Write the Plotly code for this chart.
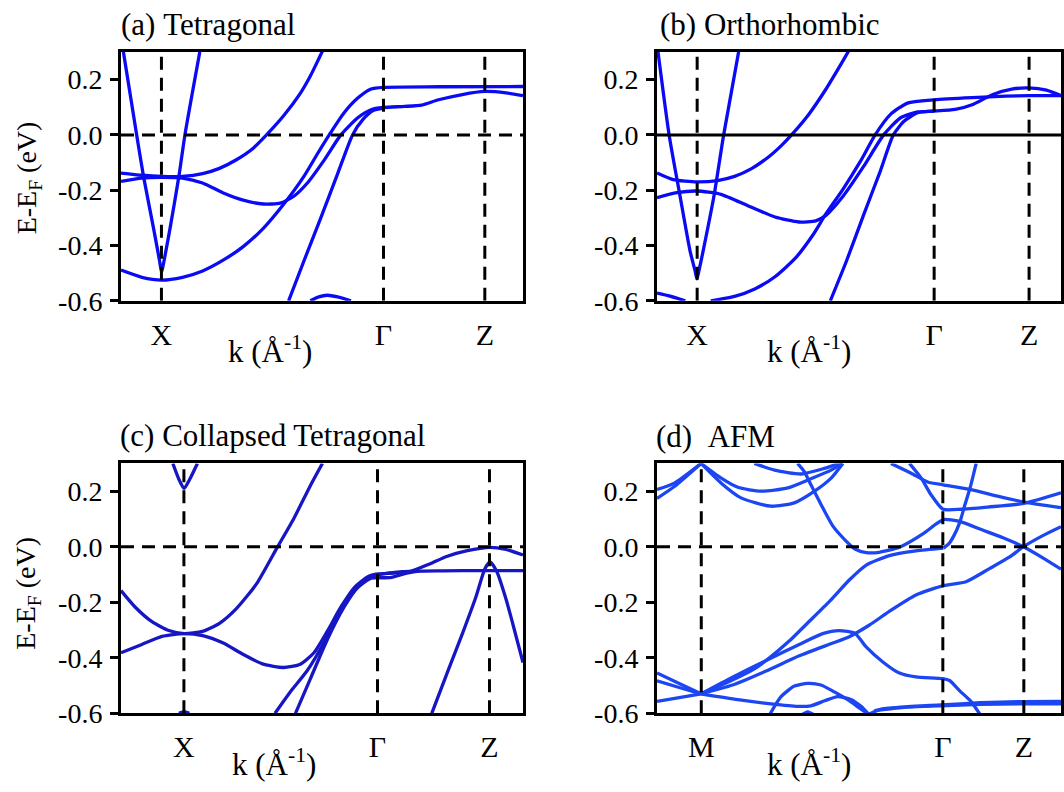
import plotly.graph_objects as go

# ---------------- data (k as fraction of the plotted path, E in eV) ----------------
K_RANGE = [0.0, 1.0]
E_RANGE = [-0.6, 0.3]
E_TICKS = [-0.6, -0.4, -0.2, 0.0, 0.2]
E_TICK_TEXT = ["-0.6", "-0.4", "-0.2", "0.0", "0.2"]

A_HS_K = [0.1006, 0.653, 0.905]
A_HS_LBL = ["X", "Γ", "Z"]
B_HS_K = [0.0994, 0.686, 0.921]
B_HS_LBL = ["X", "Γ", "Z"]
C_HS_K = [0.1565, 0.638, 0.9166]
C_HS_LBL = ["X", "Γ", "Z"]
D_HS_K = [0.1096, 0.7075, 0.908]
D_HS_LBL = ["M", "Γ", "Z"]

# (a) Tetragonal
A_BANDS = [
    ([0.006, 0.039, 0.056, 0.081, 0.096, 0.101, 0.107, 0.122, 0.144, 0.159, 0.196],
     [0.300, 0.000, -0.150, -0.338, -0.456, -0.497, -0.456, -0.338, -0.150, 0.000, 0.300]),
    ([0.0, 0.052, 0.101, 0.153, 0.203, 0.245, 0.287, 0.329, 0.362, 0.404, 0.446, 0.470, 0.492, 0.510],
     [-0.138, -0.146, -0.150, -0.150, -0.140, -0.121, -0.090, -0.048, 0.000, 0.068, 0.150, 0.210,
      0.275, 0.330]),
    ([0.0, 0.052, 0.101, 0.153, 0.203, 0.253, 0.304, 0.354, 0.396, 0.430, 0.463, 0.505, 0.547,
      0.589, 0.622, 0.653, 0.706, 0.748, 0.790, 0.849, 0.905, 0.958, 1.0],
     [-0.168, -0.156, -0.154, -0.156, -0.174, -0.209, -0.236, -0.250, -0.247, -0.222, -0.175,
      -0.092, 0.0, 0.062, 0.091, 0.099, 0.103, 0.108, 0.127, 0.146, 0.157, 0.152, 0.142]),
    ([0.0, 0.052, 0.101, 0.153, 0.203, 0.253, 0.304, 0.354, 0.404, 0.455, 0.488, 0.518, 0.555,
      0.589, 0.622, 0.653, 0.790, 1.0],
     [-0.489, -0.515, -0.525, -0.515, -0.492, -0.454, -0.404, -0.338, -0.252, -0.150, -0.070,
      0.0, 0.080, 0.133, 0.166, 0.172, 0.174, 0.175]),
    ([0.417, 0.455, 0.497, 0.539, 0.576, 0.602, 0.627, 0.653],
     [-0.600, -0.456, -0.300, -0.140, 0.0, 0.056, 0.088, 0.097]),
    ([0.471, 0.492, 0.513, 0.539, 0.572],
     [-0.600, -0.586, -0.580, -0.586, -0.600]),
]

# (b) Orthorhombic
B_BANDS = [
    ([0.0025, 0.030, 0.057, 0.082, 0.094, 0.099, 0.104, 0.114, 0.141, 0.165, 0.202],
     [0.300, 0.0, -0.221, -0.421, -0.49, -0.521, -0.49, -0.421, -0.221, 0.0, 0.300]),
    ([0.0, 0.040, 0.099, 0.150, 0.192, 0.234, 0.276, 0.309, 0.333, 0.376, 0.418, 0.447, 0.473, 0.490],
     [-0.138, -0.162, -0.170, -0.165, -0.150, -0.122, -0.080, -0.037, 0.0, 0.075, 0.165, 0.235,
      0.300, 0.345]),
    ([0.0, 0.049, 0.099, 0.158, 0.225, 0.292, 0.351, 0.393, 0.418, 0.461, 0.511, 0.561, 0.603,
      0.645, 0.686, 0.738, 0.780, 0.830, 0.881, 0.920, 0.964, 1.0],
     [-0.227, -0.209, -0.203, -0.215, -0.256, -0.297, -0.315, -0.311, -0.291, -0.221, -0.115,
      0.0, 0.062, 0.083, 0.086, 0.092, 0.109, 0.145, 0.166, 0.170, 0.162, 0.142]),
    ([0.133, 0.192, 0.242, 0.292, 0.343, 0.385, 0.418, 0.461, 0.503, 0.540, 0.578, 0.620,
      0.686, 0.780, 0.864, 0.920, 1.0],
     [-0.600, -0.584, -0.557, -0.513, -0.445, -0.364, -0.286, -0.195, -0.097, 0.0, 0.074,
      0.115, 0.127, 0.135, 0.140, 0.142, 0.142]),
    ([0.429, 0.469, 0.511, 0.553, 0.585, 0.612, 0.645, 0.686],
     [-0.600, -0.456, -0.291, -0.130, 0.0, 0.050, 0.080, 0.086]),
    ([0.0, 0.032, 0.070],
     [-0.572, -0.583, -0.600]),
]

# (c) Collapsed Tetragonal
C_BANDS = [
    ([0.129, 0.144, 0.157, 0.171, 0.190],
     [0.300, 0.243, 0.210, 0.243, 0.300]),
    ([0.0, 0.035, 0.077, 0.119, 0.157, 0.203, 0.245, 0.287, 0.337, 0.388, 0.430, 0.471, 0.501],
     [-0.158, -0.217, -0.270, -0.302, -0.313, -0.305, -0.276, -0.223, -0.134, -0.004, 0.102,
      0.220, 0.300]),
    ([0.0, 0.052, 0.102, 0.157, 0.203, 0.253, 0.304, 0.354, 0.404, 0.446, 0.480, 0.513, 0.547,
      0.581, 0.614, 0.639, 0.680, 0.718, 0.768, 0.810, 0.859, 0.918, 0.958, 1.0],
     [-0.382, -0.352, -0.323, -0.313, -0.320, -0.346, -0.388, -0.423, -0.435, -0.423, -0.382,
      -0.305, -0.217, -0.146, -0.108, -0.098, -0.095, -0.090, -0.062, -0.035, -0.015, -0.002,
      -0.010, -0.030]),
    ([0.383, 0.421, 0.463, 0.505, 0.547, 0.581, 0.614, 0.639, 0.700, 0.800, 0.900, 1.0],
     [-0.600, -0.523, -0.447, -0.346, -0.228, -0.158, -0.116, -0.102, -0.090, -0.087, -0.086,
      -0.086]),
    ([0.434, 0.471, 0.513, 0.555, 0.589, 0.622, 0.639, 0.673, 0.706, 0.740],
     [-0.600, -0.476, -0.335, -0.217, -0.146, -0.113, -0.112, -0.110, -0.097, -0.088]),
    ([0.773, 0.815, 0.850, 0.883, 0.905, 0.918, 0.935, 0.958, 0.975, 1.0],
     [-0.600, -0.441, -0.310, -0.180, -0.080, -0.055, -0.090, -0.190, -0.280, -0.417]),
    ([0.144, 0.157, 0.170],
     [-0.600, -0.594, -0.600]),
]

# (d) AFM
D_BANDS = [
    ([0.0, 0.043, 0.109], [0.206, 0.229, 0.300]),
    ([0.0, 0.043, 0.109], [0.174, 0.217, 0.300]),
    ([0.109, 0.159, 0.200, 0.258, 0.324, 0.381, 0.431, 0.460],
     [0.300, 0.247, 0.214, 0.200, 0.212, 0.245, 0.276, 0.300]),
    ([0.109, 0.159, 0.208, 0.282, 0.340, 0.390, 0.431, 0.460],
     [0.300, 0.229, 0.176, 0.146, 0.158, 0.200, 0.247, 0.300]),
    ([0.241, 0.291, 0.357, 0.414, 0.439, 0.456],
     [0.300, 0.276, 0.262, 0.282, 0.294, 0.300]),
    ([0.348, 0.365, 0.381, 0.406, 0.435, 0.465, 0.490, 0.518, 0.550, 0.600, 0.658, 0.691, 0.709,
      0.749, 0.806, 0.864, 0.907, 0.955, 1.0],
     [0.300, 0.270, 0.223, 0.152, 0.075, 0.025, -0.008, -0.021, -0.020, -0.002, 0.046, 0.082,
      0.098, 0.091, 0.060, 0.028, 0.0, -0.040, -0.081]),
    ([0.709, 0.722, 0.735, 0.749, 0.762, 0.777, 0.790],
     [-0.005, 0.010, 0.040, 0.086, 0.150, 0.223, 0.300]),
    ([0.109, 0.180, 0.241, 0.270, 0.328, 0.369, 0.427, 0.476, 0.517, 0.575, 0.641, 0.709],
     [-0.530, -0.485, -0.440, -0.410, -0.339, -0.280, -0.197, -0.120, -0.067, -0.032, -0.015,
      -0.005]),
    ([0.109, 0.187, 0.270, 0.352, 0.435, 0.476, 0.526, 0.575, 0.641, 0.709, 0.765, 0.823, 0.873,
      0.907, 0.955, 1.0],
     [-0.530, -0.498, -0.448, -0.393, -0.347, -0.324, -0.282, -0.233, -0.174, -0.140, -0.126,
      -0.079, -0.037, 0.0, 0.040, 0.072]),
    ([0.109, 0.187, 0.270, 0.352, 0.410, 0.451, 0.490, 0.517, 0.559, 0.600, 0.641, 0.707, 0.724,
      0.750, 0.777, 0.800],
     [-0.530, -0.470, -0.410, -0.352, -0.313, -0.302, -0.312, -0.360, -0.415, -0.455, -0.469,
      -0.475, -0.482, -0.520, -0.557, -0.605]),
    ([0.0, 0.055, 0.109], [-0.455, -0.493, -0.530]),
    ([0.0, 0.055, 0.109], [-0.483, -0.507, -0.530]),
    ([0.0, 0.055, 0.109], [-0.557, -0.544, -0.530]),
    ([0.109, 0.200, 0.282, 0.348, 0.381, 0.415, 0.447, 0.480, 0.505, 0.525],
     [-0.530, -0.551, -0.566, -0.575, -0.573, -0.555, -0.540, -0.550, -0.575, -0.605]),
    ([0.278, 0.307, 0.340, 0.373, 0.406, 0.439, 0.472, 0.505, 0.525],
     [-0.607, -0.540, -0.502, -0.492, -0.498, -0.523, -0.551, -0.585, -0.605]),
    ([0.522, 0.555, 0.621, 0.703, 0.800, 0.900, 1.0],
     [-0.605, -0.585, -0.576, -0.570, -0.562, -0.558, -0.557]),
    ([0.538, 0.600, 0.703, 0.800, 0.900, 1.0],
     [-0.590, -0.580, -0.573, -0.568, -0.566, -0.566]),
    ([0.357, 0.373, 0.390], [-0.607, -0.595, -0.607]),
    ([0.579, 0.629, 0.670, 0.708, 0.777, 0.843, 0.908, 1.0],
     [0.300, 0.265, 0.233, 0.223, 0.206, 0.182, 0.161, 0.141]),
    ([0.625, 0.654, 0.678, 0.708, 0.753, 0.819, 0.908, 1.0],
     [0.300, 0.247, 0.188, 0.135, 0.135, 0.143, 0.156, 0.194]),
]

TITLES = ["(a)\u00a0Tetragonal", "(b) Orthorhombic", "(c)\u00a0Collapsed Tetragonal", "(d)\u00a0\u00a0AFM"]
COLORS = ["#0a0af5", "#0a0af5", "#1616c4", "#1c46f2"]

# ---------------- layout geometry ----------------
W, H = 1064, 792
FONT = "Liberation Serif"
XDOM = [[121 / W, 523 / W], [657 / W, 1061 / W]]
YDOM = [[1 - 307 / H, 1 - 53 / H], [1 - 728 / H, 1 - 473 / H]]

panels = [
    dict(bands=A_BANDS, hs=A_HS_K, lbl=A_HS_LBL, col=0, row=0, solid_zero=False),
    dict(bands=B_BANDS, hs=B_HS_K, lbl=B_HS_LBL, col=1, row=0, solid_zero=True),
    dict(bands=C_BANDS, hs=C_HS_K, lbl=C_HS_LBL, col=0, row=1, solid_zero=False),
    dict(bands=D_BANDS, hs=D_HS_K, lbl=D_HS_LBL, col=1, row=1, solid_zero=False),
]

fig = go.Figure()
DASH = "13px,8px"

for i, p in enumerate(panels):
    n = "" if i == 0 else str(i + 1)
    xr, yr = "x" + n, "y" + n
    color = COLORS[i]
    for ks, es in p["bands"]:
        fig.add_trace(go.Scatter(x=ks, y=es, mode="lines", xaxis=xr, yaxis=yr,
                                 line=dict(color=color, width=3.3, shape="spline", smoothing=0.6),
                                 hoverinfo="skip", showlegend=False))
    # Fermi level
    fig.add_trace(go.Scatter(x=K_RANGE, y=[0, 0], mode="lines", xaxis=xr, yaxis=yr,
                             line=dict(color="black", width=3,
                                       dash="solid" if p["solid_zero"] else DASH),
                             hoverinfo="skip", showlegend=False))
    # high-symmetry verticals
    for k in p["hs"]:
        fig.add_trace(go.Scatter(x=[k, k], y=E_RANGE, mode="lines", xaxis=xr, yaxis=yr,
                                 line=dict(color="black", width=3, dash=DASH),
                                 hoverinfo="skip", showlegend=False))

    fig.layout["xaxis" + n] = dict(
        domain=XDOM[p["col"]], range=K_RANGE, anchor=yr,
        showline=True, mirror=True, linewidth=3, linecolor="black",
        showgrid=False, zeroline=False, ticks="",
        tickvals=p["hs"], ticktext=p["lbl"],
        tickfont=dict(family=FONT, size=30, color="black"), ticklabelstandoff=5,
    )
    fig.layout["yaxis" + n] = dict(
        domain=YDOM[p["row"]], range=E_RANGE, anchor=xr,
        showline=True, mirror=True, linewidth=3, linecolor="black",
        showgrid=False, zeroline=False, ticks="outside", ticklen=8, tickwidth=3,
        tickcolor="black", tickvals=E_TICKS, ticktext=E_TICK_TEXT,
        tickfont=dict(family=FONT, size=28, color="black"), ticklabelstandoff=2,
    )

ann = []
title_pos = [(119, 25), (658, 25), (118, 444), (654, 446)]
for t, (px, py) in zip(TITLES, title_pos):
    ann.append(dict(text=t, x=px / W, y=1 - py / H, xref="paper", yref="paper",
                    xanchor="left", yanchor="middle", showarrow=False,
                    font=dict(family=FONT, size=31, color="black")))
for (px, py) in [(270, 357), (809, 357), (274, 778), (809, 778)]:
    ann.append(dict(text="k (Å<sup>-1</sup>)", x=px / W, y=1 - py / H, xref="paper",
                    yref="paper", xanchor="center", yanchor="middle", showarrow=False,
                    font=dict(family=FONT, size=31, color="black")))
for (px, py) in [(28, 182), (28, 606)]:
    ann.append(dict(text="E-E<sub>F</sub> (eV)", x=px / W, y=1 - py / H, xref="paper",
                    yref="paper", xanchor="center", yanchor="middle", showarrow=False,
                    textangle=-90, font=dict(family=FONT, size=28, color="black")))

fig.update_layout(width=W, height=H, autosize=False, margin=dict(l=0, r=0, t=0, b=0),
                  plot_bgcolor="white", paper_bgcolor="white", annotations=ann,
                  showlegend=False, font=dict(family=FONT, color="black"))

fig.write_html("out.html", config={"responsive": False},
               default_width="1064px", default_height="792px")
